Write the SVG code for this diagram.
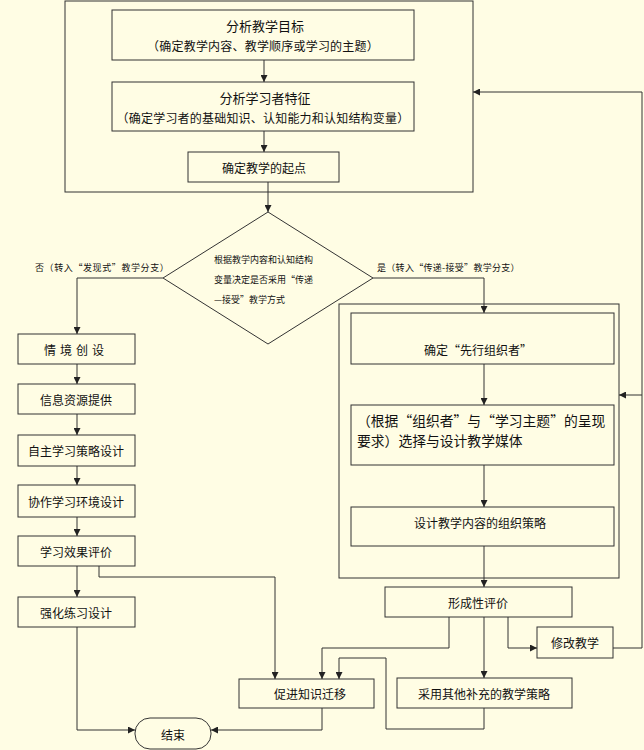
<svg xmlns="http://www.w3.org/2000/svg" width="644" height="750" viewBox="0 0 644 750">
<defs>
<marker id="ah" markerWidth="7" markerHeight="7" refX="7" refY="3.5" orient="auto" markerUnits="userSpaceOnUse">
<path d="M0,0 L7,3.5 L0,7 z" fill="#222"/>
</marker>
<style>
.bx{fill:none;stroke:#333;stroke-width:1}
.ln{fill:none;stroke:#333;stroke-width:1;marker-end:url(#ah)}
text{font-family:"Noto Sans CJK SC","Noto Sans CJK JP",sans-serif;fill:#111;font-size:12px;dominant-baseline:central}
.c{text-anchor:middle}
.sm{font-size:9px}
.lg{font-size:13.8px}
</style>
</defs>
<rect width="644" height="750" fill="#FFFDE4"/>

<g id="frame-top"><rect class="bx" x="65" y="1" width="408" height="191"/></g>
<g id="frame-right"><rect class="bx" x="339" y="304" width="280" height="274"/></g>

<g id="n1"><rect class="bx" x="112" y="10" width="302" height="50"/>
<text class="c" x="265" y="25" style="font-size:13px">分析教学目标</text>
<text class="c" x="263" y="45" style="letter-spacing:0.2px">（确定教学内容、教学顺序或学习的主题）</text></g>

<g id="n2"><rect class="bx" x="112" y="82" width="302" height="49"/>
<text class="c" x="265" y="97" style="font-size:13px">分析学习者特征</text>
<text class="c" x="263" y="117" style="letter-spacing:0.2px">（确定学习者的基础知识、认知能力和认知结构变量）</text></g>

<g id="n3"><rect class="bx" x="188" y="152" width="151" height="30"/>
<text class="c" x="264" y="167">确定教学的起点</text></g>

<g id="d1"><polygon class="bx" points="268,212 373,278 268,344 163,278"/>
<text class="sm" x="214" y="259">根据教学内容和认知结构</text>
<text class="sm" x="214" y="279">变量决定是否采用“传递</text>
<text class="sm" x="214" y="299">—接受”教学方式</text></g>

<g id="lbl-no"><text class="sm" x="35" y="267" style="letter-spacing:0.6px">否（转入“发现式”教学分支）</text></g>
<g id="lbl-yes"><text class="sm" x="377" y="267" style="letter-spacing:0.3px">是（转入“传递-接受”教学分支）</text></g>

<g id="l1"><rect class="bx" x="18" y="334" width="117" height="30"/><text class="c" x="76" y="349" style="letter-spacing:4px">情境创设</text></g>
<g id="l2"><rect class="bx" x="18" y="384" width="117" height="30"/><text class="c" x="76" y="399">信息资源提供</text></g>
<g id="l3"><rect class="bx" x="18" y="435" width="117" height="31"/><text class="c" x="76" y="450.5">自主学习策略设计</text></g>
<g id="l4"><rect class="bx" x="18" y="485" width="117" height="32"/><text class="c" x="76" y="501">协作学习环境设计</text></g>
<g id="l5"><rect class="bx" x="18" y="536" width="117" height="30"/><text class="c" x="76" y="551">学习效果评价</text></g>
<g id="l6"><rect class="bx" x="18" y="597" width="117" height="30"/><text class="c" x="76" y="612">强化练习设计</text></g>

<g id="r1"><rect class="bx" x="351" y="313" width="263" height="51"/><text class="c" x="478" y="349">确定“先行组织者”</text></g>
<g id="r2"><rect class="bx" x="351" y="405" width="263" height="60"/>
<text class="lg" x="357" y="420">（根据“组织者”与“学习主题”的呈现</text>
<text class="lg" x="357" y="440">要求）选择与设计教学媒体</text></g>
<g id="r3"><rect class="bx" x="351" y="507" width="263" height="39"/><text class="c" x="480" y="522">设计教学内容的组织策略</text></g>

<g id="e1"><rect class="bx" x="385" y="587" width="187" height="30"/><text class="c" x="478" y="602">形成性评价</text></g>
<g id="e2"><rect class="bx" x="537" y="627" width="76" height="31"/><text class="c" x="575" y="642">修改教学</text></g>
<g id="e3"><rect class="bx" x="397" y="678" width="175" height="30"/><text class="c" x="484" y="693">采用其他补充的教学策略</text></g>
<g id="e4"><rect class="bx" x="239" y="679" width="135" height="29"/><text class="c" x="310" y="693.5">促进知识迁移</text></g>
<g id="end"><rect class="bx" x="135" y="718" width="76" height="31" rx="15" ry="15"/><text class="c" x="173" y="734">结束</text></g>

<g id="connectors">
<line class="ln" x1="264" y1="60" x2="264" y2="82"/>
<line class="ln" x1="264" y1="131" x2="264" y2="152"/>
<line class="ln" x1="268" y1="182" x2="268" y2="212"/>
<polyline class="ln" points="163,278 77,278 77,334"/>
<polyline class="ln" points="373,278 484,278 484,313"/>
<line class="ln" x1="77" y1="364" x2="77" y2="384"/>
<line class="ln" x1="77" y1="414" x2="77" y2="435"/>
<line class="ln" x1="77" y1="466" x2="77" y2="485"/>
<line class="ln" x1="77" y1="517" x2="77" y2="536"/>
<line class="ln" x1="77" y1="566" x2="77" y2="597"/>
<line class="ln" x1="484" y1="364" x2="484" y2="405"/>
<line class="ln" x1="484" y1="465" x2="484" y2="507"/>
<line class="ln" x1="484" y1="546" x2="484" y2="587"/>
<line class="ln" x1="484" y1="617" x2="484" y2="678"/>
<polyline class="ln" points="449,617 449,648 322,648 322,679"/>
<polyline class="ln" points="508,617 508,648 537,648"/>
<polyline class="ln" points="613,648 642,648 642,92 473,92"/>
<line class="ln" x1="642" y1="395" x2="619" y2="395"/>
<polyline class="ln" points="484,708 484,729 386,729 386,658 339,658 339,679"/>
<polyline class="ln" points="99,566 99,577 275,577 275,679"/>
<polyline class="ln" points="322,708 322,730 211,730"/>
<polyline class="ln" points="77,627 77,730 135,730"/>
</g>
</svg>
